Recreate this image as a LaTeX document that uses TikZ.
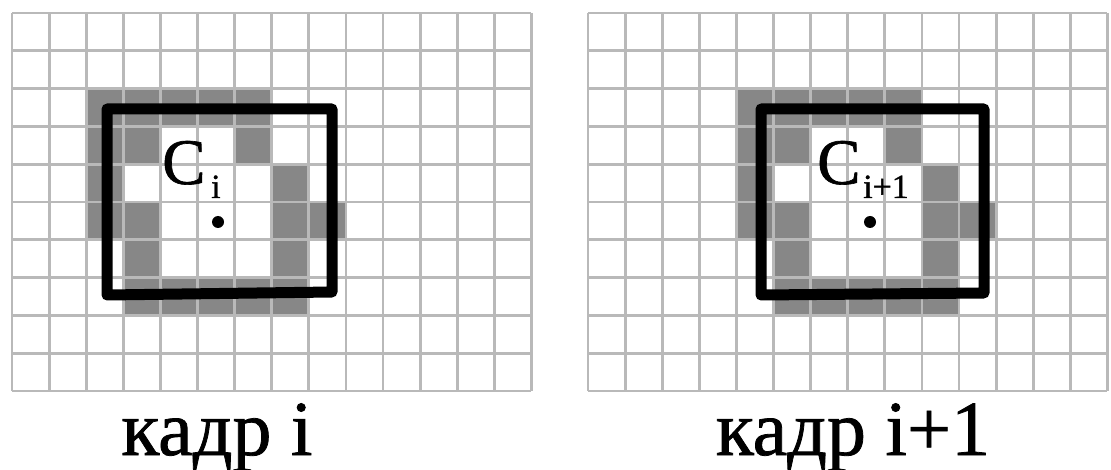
\documentclass[tikz,border=0pt]{standalone}
\usepackage{fontspec}
\setmainfont{Liberation Serif}
\newfontfamily\heavyserif[FakeBold=1.0]{Liberation Serif}
\definecolor{gridc}{RGB}{185,185,185}
\definecolor{cellc}{RGB}{135,135,135}
\begin{document}
\begin{tikzpicture}[x=1pt,y=-1pt,
  gridline/.style={draw=gridc,line width=2.8pt},
  frame/.style={draw=black,line width=11pt,line join=round},
  lbl/.style={inner sep=0pt,anchor=base,font=\heavyserif\fontsize{78}{80}\selectfont},
  cl/.style={inner sep=0pt,anchor=base west,font=\heavyserif\fontsize{65}{66}\selectfont},
  sub/.style={inner sep=0pt,anchor=base west,font=\heavyserif\fontsize{34}{36}\selectfont}]
\useasboundingbox (0,0) rectangle (1111,470);
\fill[white] (0,0) rectangle (1111,470);
\foreach \gx/\sh in {12/0,588/2}{
  \foreach \c/\r in {2/2,3/2,4/2,5/2,6/2,2/3,3/3,6/3,2/4,7/4,2/5,3/5,7/5,8/5,3/6,7/6,3/7,4/7,5/7,6/7,7/7}{
    \fill[cellc] ({\gx+(\c+\sh)*37.1},{13+\r*37.8}) rectangle ++(37.1,37.8);
  }
  \foreach \i in {0,...,14}{
    \draw[gridline] ({\gx+\i*37.1},13) -- ++(0,378);
  }
  \foreach \j in {0,...,10}{
    \draw[gridline] (\gx,{13+\j*37.8}) -- ++(519.4,0);
  }
}
% frames
\draw[frame] (107,109) -- (332,109) -- (332,292) -- (107,295) -- cycle;
\draw[frame] (761,109) -- (984,109) -- (984,293) -- (761,295) -- cycle;
% centres
\fill[black] (218,222) circle[radius=6pt];
\fill[black] (870,222) circle[radius=6pt];
% labels
\node[cl] (c1) at (162,184) {C};
\node[sub] (s1) at (211,198) {i};
\node[cl] (c2) at (817,184) {C};
\node[sub] (s2) at (863,198) {i+1};
\node[lbl] (lab1) at (217,455) {кадр i};
\node[lbl] (lab2) at (853,455) {кадр i+1};
\end{tikzpicture}
\end{document}
